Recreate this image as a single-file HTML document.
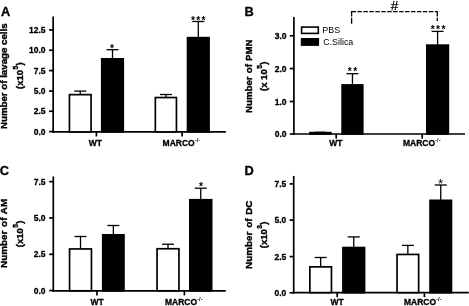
<!DOCTYPE html>
<html><head><meta charset="utf-8"><style>
html,body{margin:0;padding:0;background:#fff;}
svg{display:block;will-change:transform;filter:grayscale(1);}
text{font-family:"Liberation Sans",sans-serif;fill:#000;}
text.b{stroke:#000;stroke-width:0.3px;stroke-linejoin:round;}
text.y{stroke:#000;stroke-width:0.4px;stroke-linejoin:round;}
</style></head><body>
<svg width="469" height="306" viewBox="0 0 469 306">
<rect width="469" height="306" fill="#fff"/>
<text class="b" x="0.9" y="16.4" font-size="12.8" font-weight="bold" text-anchor="start" >A</text>
<line x1="53.15" y1="16.50" x2="53.15" y2="132.75" stroke="#000" stroke-width="1.7" />
<line x1="52.30" y1="131.90" x2="225.80" y2="131.90" stroke="#000" stroke-width="1.7" />
<line x1="49.05" y1="29.90" x2="53.15" y2="29.90" stroke="#000" stroke-width="1.7" />
<text class="b" x="45.5" y="32.949999999999996" font-size="8.5" font-weight="bold" text-anchor="end" >12.5</text>
<line x1="49.05" y1="50.25" x2="53.15" y2="50.25" stroke="#000" stroke-width="1.7" />
<text class="b" x="45.5" y="53.3" font-size="8.5" font-weight="bold" text-anchor="end" >10.0</text>
<line x1="49.05" y1="70.60" x2="53.15" y2="70.60" stroke="#000" stroke-width="1.7" />
<text class="b" x="45.5" y="73.64999999999999" font-size="8.5" font-weight="bold" text-anchor="end" >7.5</text>
<line x1="49.05" y1="91.10" x2="53.15" y2="91.10" stroke="#000" stroke-width="1.7" />
<text class="b" x="45.5" y="94.14999999999999" font-size="8.5" font-weight="bold" text-anchor="end" >5.0</text>
<line x1="49.05" y1="111.25" x2="53.15" y2="111.25" stroke="#000" stroke-width="1.7" />
<text class="b" x="45.5" y="114.3" font-size="8.5" font-weight="bold" text-anchor="end" >2.5</text>
<line x1="49.05" y1="131.60" x2="53.15" y2="131.60" stroke="#000" stroke-width="1.7" />
<text class="b" x="45.5" y="134.65" font-size="8.5" font-weight="bold" text-anchor="end" >0.0</text>
<line x1="96.40" y1="131.90" x2="96.40" y2="136.50" stroke="#000" stroke-width="1.7" />
<line x1="182.10" y1="131.90" x2="182.10" y2="136.50" stroke="#000" stroke-width="1.7" />
<text class="b" x="95.4" y="145.6" font-size="8.5" font-weight="bold" text-anchor="middle" >WT</text>
<text class="b" x="162.6" y="145.6" font-size="8.5" font-weight="bold" text-anchor="start">MARCO<tspan font-size="5.8" dy="-3.6" font-weight="bold" style="stroke:none">-/-</tspan></text>
<line x1="80.25" y1="91.10" x2="80.25" y2="94.80" stroke="#000" stroke-width="1.3" />
<line x1="74.25" y1="91.10" x2="86.25" y2="91.10" stroke="#000" stroke-width="1.3" />
<rect x="69.45" y="94.65" width="21.60" height="37.25" fill="#fff" stroke="#000" stroke-width="1.7"/>
<line x1="112.50" y1="49.70" x2="112.50" y2="59.00" stroke="#000" stroke-width="1.3" />
<line x1="106.50" y1="49.70" x2="118.50" y2="49.70" stroke="#000" stroke-width="1.3" />
<rect x="101.75" y="58.85" width="21.50" height="73.05" fill="#000" stroke="#000" stroke-width="1.7"/>
<line x1="165.90" y1="94.50" x2="165.90" y2="97.70" stroke="#000" stroke-width="1.3" />
<line x1="159.90" y1="94.50" x2="171.90" y2="94.50" stroke="#000" stroke-width="1.3" />
<rect x="155.35" y="97.55" width="21.10" height="34.35" fill="#fff" stroke="#000" stroke-width="1.7"/>
<line x1="198.30" y1="21.50" x2="198.30" y2="37.80" stroke="#000" stroke-width="1.3" />
<line x1="192.30" y1="21.50" x2="204.30" y2="21.50" stroke="#000" stroke-width="1.3" />
<rect x="187.55" y="37.65" width="21.50" height="94.25" fill="#000" stroke="#000" stroke-width="1.7"/>
<text class="b" x="112.1" y="52.1" font-size="10.3" font-weight="bold" text-anchor="middle" style="stroke:none">*</text>
<text class="b" x="193.0" y="23.7" font-size="10.3" font-weight="bold" text-anchor="middle" style="stroke:none">*</text>
<text class="b" x="198.3" y="23.7" font-size="10.3" font-weight="bold" text-anchor="middle" style="stroke:none">*</text>
<text class="b" x="203.60000000000002" y="23.7" font-size="10.3" font-weight="bold" text-anchor="middle" style="stroke:none">*</text>
<text class="y" transform="translate(7.3,76.2) rotate(-90)" font-size="9.7" word-spacing="0" font-weight="bold" text-anchor="middle">Number of lavage cells</text>
<text class="y" transform="translate(23.0,75.6) rotate(-90)" font-size="9.5" font-weight="bold" text-anchor="middle">(x10<tspan font-size="6.6" dy="-4.8" dx="0.5">5</tspan><tspan dy="4.8" dx="0.4">)</tspan></text>
<text class="b" x="244.5" y="15.7" font-size="12.8" font-weight="bold" text-anchor="start" >B</text>
<line x1="293.90" y1="17.00" x2="293.90" y2="134.85" stroke="#000" stroke-width="1.7" />
<line x1="293.05" y1="134.00" x2="465.00" y2="134.00" stroke="#000" stroke-width="1.7" />
<line x1="289.80" y1="35.80" x2="293.90" y2="35.80" stroke="#000" stroke-width="1.7" />
<text class="b" x="286.5" y="38.849999999999994" font-size="8.5" font-weight="bold" text-anchor="end" >3.0</text>
<line x1="289.80" y1="68.55" x2="293.90" y2="68.55" stroke="#000" stroke-width="1.7" />
<text class="b" x="286.5" y="71.6" font-size="8.5" font-weight="bold" text-anchor="end" >2.0</text>
<line x1="289.80" y1="101.50" x2="293.90" y2="101.50" stroke="#000" stroke-width="1.7" />
<text class="b" x="286.5" y="104.55" font-size="8.5" font-weight="bold" text-anchor="end" >1.0</text>
<line x1="289.80" y1="134.00" x2="293.90" y2="134.00" stroke="#000" stroke-width="1.7" />
<text class="b" x="286.5" y="137.05" font-size="8.5" font-weight="bold" text-anchor="end" >0.0</text>
<line x1="336.20" y1="134.00" x2="336.20" y2="138.60" stroke="#000" stroke-width="1.7" />
<line x1="422.20" y1="134.00" x2="422.20" y2="138.60" stroke="#000" stroke-width="1.7" />
<text class="b" x="335.8" y="145.5" font-size="8.5" font-weight="bold" text-anchor="middle" >WT</text>
<text class="b" x="403" y="145.5" font-size="8.5" font-weight="bold" text-anchor="start">MARCO<tspan font-size="5.8" dy="-3.6" font-weight="bold" style="stroke:none">-/-</tspan></text>
<rect x="309.95" y="132.65" width="20.90" height="1.35" fill="#fff" stroke="#000" stroke-width="1.7"/>
<line x1="352.45" y1="73.70" x2="352.45" y2="85.10" stroke="#000" stroke-width="1.3" />
<line x1="346.45" y1="73.70" x2="358.45" y2="73.70" stroke="#000" stroke-width="1.3" />
<rect x="342.15" y="84.95" width="20.60" height="49.05" fill="#000" stroke="#000" stroke-width="1.7"/>
<line x1="437.60" y1="31.40" x2="437.60" y2="45.30" stroke="#000" stroke-width="1.3" />
<line x1="431.60" y1="31.40" x2="443.60" y2="31.40" stroke="#000" stroke-width="1.3" />
<rect x="426.85" y="45.15" width="21.50" height="88.85" fill="#000" stroke="#000" stroke-width="1.7"/>
<text class="b" x="349.85" y="75.0" font-size="10.3" font-weight="bold" text-anchor="middle" style="stroke:none">*</text>
<text class="b" x="355.15" y="75.0" font-size="10.3" font-weight="bold" text-anchor="middle" style="stroke:none">*</text>
<text class="b" x="432.8" y="32.7" font-size="10.3" font-weight="bold" text-anchor="middle" style="stroke:none">*</text>
<text class="b" x="438.1" y="32.7" font-size="10.3" font-weight="bold" text-anchor="middle" style="stroke:none">*</text>
<text class="b" x="443.40000000000003" y="32.7" font-size="10.3" font-weight="bold" text-anchor="middle" style="stroke:none">*</text>
<text class="y" transform="translate(251.7,76.2) rotate(-90)" font-size="9.7" word-spacing="0.45" font-weight="bold" text-anchor="middle">Number of PMN</text>
<text class="y" transform="translate(267.2,76.3) rotate(-90)" font-size="9.5" font-weight="bold" text-anchor="middle">(x 10<tspan font-size="6.6" dy="-4.8" dx="0.5">5</tspan><tspan dy="4.8" dx="0.4">)</tspan></text>
<line x1="314.7" y1="131.4" x2="326" y2="131.4" stroke="#666" stroke-width="0.7"/>
<rect x="301.6" y="27.1" width="16.7" height="6.3" fill="#fff" stroke="#000" stroke-width="1.6"/>
<rect x="301.6" y="38.8" width="16.7" height="6.3" fill="#000" stroke="#000" stroke-width="1.6"/>
<text  x="322.3" y="33.2" font-size="8.9" font-weight="normal" text-anchor="start" >PBS</text>
<text  x="323.2" y="45.4" font-size="8.9" font-weight="normal" text-anchor="start" >C.Silica</text>
<path d="M351.5 11.6 H437.3" fill="none" stroke="#000" stroke-width="1.4" stroke-dasharray="4.45 1.5"/>
<path d="M351.6 10.9 V16.4 M351.6 17.8 V23.8 M437.3 10.9 V16.4 M437.3 17.8 V20.9" fill="none" stroke="#000" stroke-width="1.3"/>
<text  x="394.6" y="9.6" font-size="13.5" font-weight="normal" text-anchor="middle" style="stroke:#000;stroke-width:0.25px">#</text>
<text class="b" x="-0.2" y="174.5" font-size="12.8" font-weight="bold" text-anchor="start" >C</text>
<line x1="53.30" y1="176.50" x2="53.30" y2="291.65" stroke="#000" stroke-width="1.7" />
<line x1="52.45" y1="290.80" x2="225.80" y2="290.80" stroke="#000" stroke-width="1.7" />
<line x1="49.20" y1="181.65" x2="53.30" y2="181.65" stroke="#000" stroke-width="1.7" />
<text class="b" x="45.5" y="184.70000000000002" font-size="8.5" font-weight="bold" text-anchor="end" >7.5</text>
<line x1="49.20" y1="217.95" x2="53.30" y2="217.95" stroke="#000" stroke-width="1.7" />
<text class="b" x="45.5" y="221.0" font-size="8.5" font-weight="bold" text-anchor="end" >5.0</text>
<line x1="49.20" y1="254.30" x2="53.30" y2="254.30" stroke="#000" stroke-width="1.7" />
<text class="b" x="45.5" y="257.35" font-size="8.5" font-weight="bold" text-anchor="end" >2.5</text>
<line x1="49.20" y1="290.50" x2="53.30" y2="290.50" stroke="#000" stroke-width="1.7" />
<text class="b" x="45.5" y="293.55" font-size="8.5" font-weight="bold" text-anchor="end" >0.0</text>
<line x1="97.00" y1="290.80" x2="97.00" y2="295.40" stroke="#000" stroke-width="1.7" />
<line x1="184.40" y1="290.80" x2="184.40" y2="295.40" stroke="#000" stroke-width="1.7" />
<text class="b" x="97" y="305" font-size="8.5" font-weight="bold" text-anchor="middle" >WT</text>
<text class="b" x="165.0" y="305" font-size="8.5" font-weight="bold" text-anchor="start">MARCO<tspan font-size="5.8" dy="-3.6" font-weight="bold" style="stroke:none">-/-</tspan></text>
<line x1="80.50" y1="236.50" x2="80.50" y2="249.10" stroke="#000" stroke-width="1.3" />
<line x1="74.50" y1="236.50" x2="86.50" y2="236.50" stroke="#000" stroke-width="1.3" />
<rect x="69.55" y="248.95" width="21.90" height="41.85" fill="#fff" stroke="#000" stroke-width="1.7"/>
<line x1="113.35" y1="225.50" x2="113.35" y2="235.00" stroke="#000" stroke-width="1.3" />
<line x1="107.35" y1="225.50" x2="119.35" y2="225.50" stroke="#000" stroke-width="1.3" />
<rect x="102.75" y="234.85" width="21.20" height="55.95" fill="#000" stroke="#000" stroke-width="1.7"/>
<line x1="168.00" y1="244.20" x2="168.00" y2="248.90" stroke="#000" stroke-width="1.3" />
<line x1="162.00" y1="244.20" x2="174.00" y2="244.20" stroke="#000" stroke-width="1.3" />
<rect x="157.05" y="248.75" width="21.90" height="42.05" fill="#fff" stroke="#000" stroke-width="1.7"/>
<line x1="200.75" y1="188.20" x2="200.75" y2="199.90" stroke="#000" stroke-width="1.3" />
<line x1="194.75" y1="188.20" x2="206.75" y2="188.20" stroke="#000" stroke-width="1.3" />
<rect x="189.85" y="199.75" width="21.80" height="91.05" fill="#000" stroke="#000" stroke-width="1.7"/>
<text class="b" x="201.0" y="189.8" font-size="10.3" font-weight="bold" text-anchor="middle" style="stroke:none">*</text>
<text class="y" transform="translate(7.4,233.4) rotate(-90)" font-size="9.9" word-spacing="1.0" font-weight="bold" text-anchor="middle">Number of AM</text>
<text class="y" transform="translate(23.0,233.9) rotate(-90)" font-size="9.5" font-weight="bold" text-anchor="middle">(x10<tspan font-size="6.6" dy="-4.8" dx="0.5">5</tspan><tspan dy="4.8" dx="0.4">)</tspan></text>
<text class="b" x="244.4" y="174.5" font-size="12.8" font-weight="bold" text-anchor="start" >D</text>
<line x1="293.70" y1="175.90" x2="293.70" y2="293.45" stroke="#000" stroke-width="1.7" />
<line x1="292.85" y1="292.60" x2="468.80" y2="292.60" stroke="#000" stroke-width="1.7" />
<line x1="289.60" y1="183.90" x2="293.70" y2="183.90" stroke="#000" stroke-width="1.7" />
<text class="b" x="286.3" y="186.95000000000002" font-size="8.5" font-weight="bold" text-anchor="end" >7.5</text>
<line x1="289.60" y1="220.10" x2="293.70" y2="220.10" stroke="#000" stroke-width="1.7" />
<text class="b" x="286.3" y="223.15" font-size="8.5" font-weight="bold" text-anchor="end" >5.0</text>
<line x1="289.60" y1="256.60" x2="293.70" y2="256.60" stroke="#000" stroke-width="1.7" />
<text class="b" x="286.3" y="259.65000000000003" font-size="8.5" font-weight="bold" text-anchor="end" >2.5</text>
<line x1="289.60" y1="292.80" x2="293.70" y2="292.80" stroke="#000" stroke-width="1.7" />
<text class="b" x="286.3" y="295.85" font-size="8.5" font-weight="bold" text-anchor="end" >0.0</text>
<line x1="337.20" y1="292.60" x2="337.20" y2="297.20" stroke="#000" stroke-width="1.7" />
<line x1="424.40" y1="292.60" x2="424.40" y2="297.20" stroke="#000" stroke-width="1.7" />
<text class="b" x="337.2" y="305" font-size="8.5" font-weight="bold" text-anchor="middle" >WT</text>
<text class="b" x="404.0" y="305" font-size="8.5" font-weight="bold" text-anchor="start">MARCO<tspan font-size="5.8" dy="-3.6" font-weight="bold" style="stroke:none">-/-</tspan></text>
<line x1="320.65" y1="257.50" x2="320.65" y2="267.00" stroke="#000" stroke-width="1.3" />
<line x1="314.65" y1="257.50" x2="326.65" y2="257.50" stroke="#000" stroke-width="1.3" />
<rect x="309.85" y="266.85" width="21.60" height="25.75" fill="#fff" stroke="#000" stroke-width="1.7"/>
<line x1="353.75" y1="236.90" x2="353.75" y2="247.70" stroke="#000" stroke-width="1.3" />
<line x1="347.75" y1="236.90" x2="359.75" y2="236.90" stroke="#000" stroke-width="1.3" />
<rect x="342.95" y="247.55" width="21.60" height="45.05" fill="#000" stroke="#000" stroke-width="1.7"/>
<line x1="407.85" y1="245.40" x2="407.85" y2="254.60" stroke="#000" stroke-width="1.3" />
<line x1="401.85" y1="245.40" x2="413.85" y2="245.40" stroke="#000" stroke-width="1.3" />
<rect x="397.05" y="254.45" width="21.60" height="38.15" fill="#fff" stroke="#000" stroke-width="1.7"/>
<line x1="440.75" y1="185.00" x2="440.75" y2="200.50" stroke="#000" stroke-width="1.3" />
<line x1="434.75" y1="185.00" x2="446.75" y2="185.00" stroke="#000" stroke-width="1.3" />
<rect x="430.05" y="200.35" width="21.40" height="92.25" fill="#000" stroke="#000" stroke-width="1.7"/>
<text  x="440.7" y="188.2" font-size="13.5" font-weight="normal" text-anchor="middle" style="stroke:none">*</text>
<text class="y" transform="translate(251.6,234.7) rotate(-90)" font-size="9.9" word-spacing="1.0" font-weight="bold" text-anchor="middle">Number of DC</text>
<text class="y" transform="translate(267.0,234.9) rotate(-90)" font-size="9.5" font-weight="bold" text-anchor="middle">(x10<tspan font-size="6.6" dy="-4.8" dx="0.5">3</tspan><tspan dy="4.8" dx="0.4">)</tspan></text>
</svg>
</body></html>
